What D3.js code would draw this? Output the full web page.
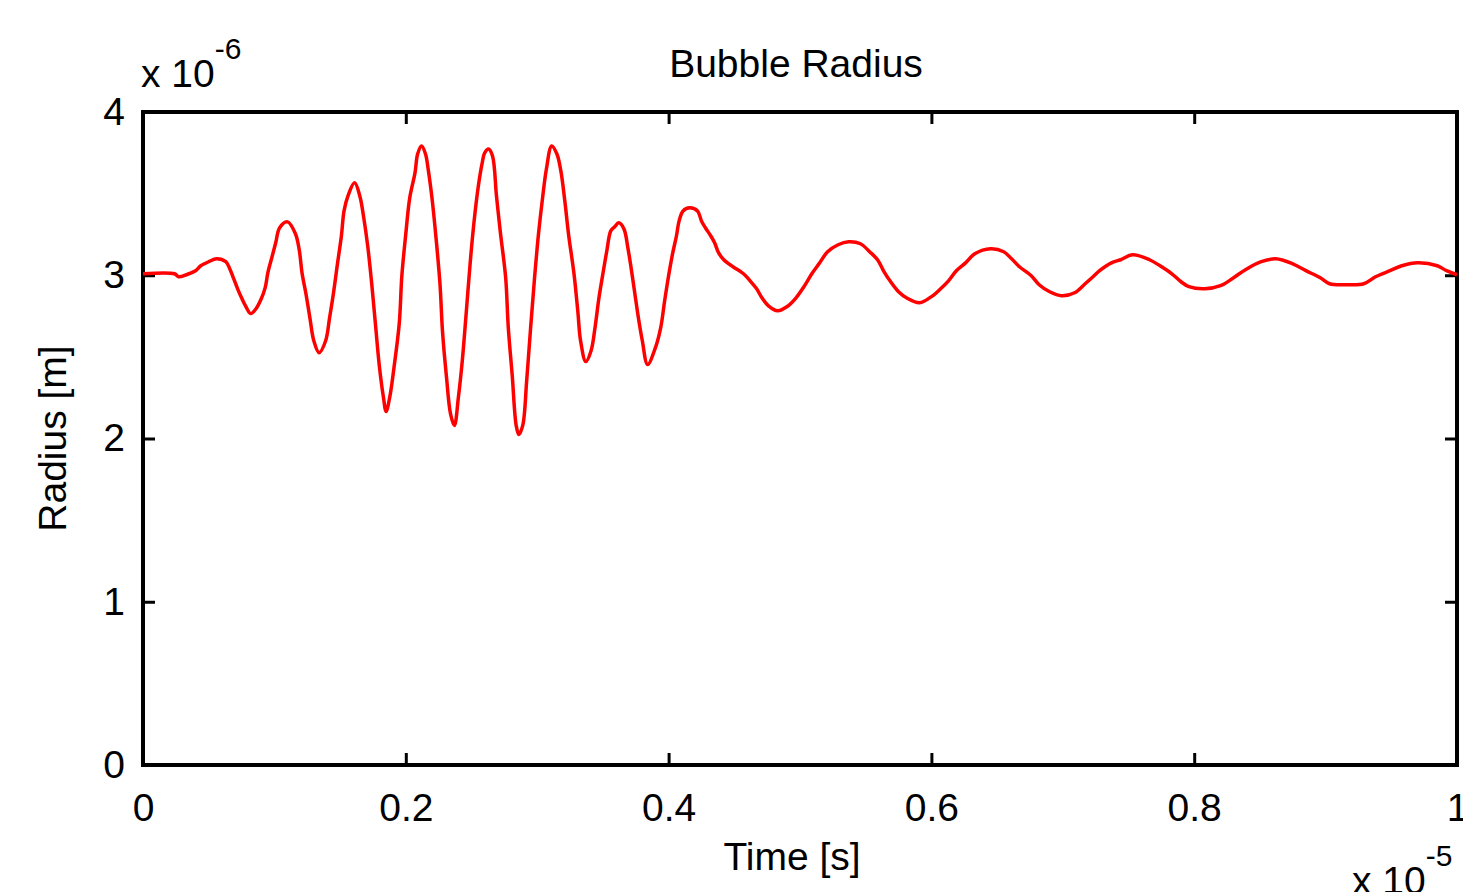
<!DOCTYPE html>
<html lang="en">
<head>
<meta charset="utf-8">
<style>
    body { margin: 0; background: #fff; }
    svg { display: block; font-family: "Liberation Sans", Arial, sans-serif; }
    .axis path { display: none; }
    .axis line { stroke: #000; stroke-width: 3; }
    .axis text { font-size: 39px; fill: #000; }
</style>
</head>
<body>
<svg></svg>
<script src="https://d3js.org/d3.v7.min.js"></script>
<script>
    // time in units of 1e-5 s, radius in units of 1e-6 m
    var time = [0, 0.024, 0.027, 0.033, 0.040, 0.044, 0.050, 0.056, 0.063, 0.066, 0.069, 0.072, 0.075, 0.078, 0.082,
        0.086, 0.090, 0.093, 0.095, 0.098, 0.101, 0.104, 0.110, 0.116, 0.119, 0.121, 0.124, 0.127, 0.130, 0.134,
        0.139, 0.142, 0.145, 0.148, 0.151, 0.153, 0.156, 0.161, 0.165, 0.168, 0.171, 0.174, 0.177, 0.180, 0.183, 0.185,
        0.188, 0.191, 0.195, 0.197, 0.200, 0.203, 0.207, 0.209, 0.212, 0.215, 0.217, 0.220, 0.223, 0.226, 0.228,
        0.231, 0.234, 0.237, 0.240, 0.243, 0.246, 0.249, 0.252, 0.255, 0.258, 0.260, 0.263, 0.266, 0.269, 0.272,
        0.276, 0.278, 0.281, 0.284, 0.286, 0.289, 0.292, 0.295, 0.298, 0.301, 0.304, 0.307, 0.311, 0.315, 0.318,
        0.321, 0.324, 0.328, 0.331, 0.333, 0.337, 0.341, 0.344, 0.347, 0.350, 0.353, 0.356, 0.359, 0.362, 0.366,
        0.369, 0.371, 0.374, 0.377, 0.380, 0.384, 0.390, 0.394, 0.397, 0.400, 0.403, 0.406, 0.408, 0.411, 0.416,
        0.422, 0.425, 0.428, 0.432, 0.435, 0.438, 0.442, 0.449, 0.457, 0.462, 0.467, 0.471, 0.476, 0.483, 0.490,
        0.497, 0.503, 0.509, 0.515, 0.521, 0.529, 0.537, 0.546, 0.553, 0.559, 0.564, 0.569, 0.575, 0.581, 0.591,
        0.600, 0.607, 0.613, 0.619, 0.626, 0.633, 0.645, 0.655, 0.661, 0.667, 0.676, 0.682, 0.690, 0.699, 0.709,
        0.717, 0.723, 0.728, 0.737, 0.744, 0.753, 0.766, 0.774, 0.783, 0.790, 0.796, 0.808, 0.820, 0.830, 0.839,
        0.851, 0.862, 0.875, 0.885, 0.896, 0.903, 0.916, 0.929, 0.938, 0.949, 0.958, 0.970, 0.985, 0.992, 1.0];
    var radius = [3.009, 3.009, 2.991, 3.003, 3.028, 3.058, 3.083, 3.101, 3.083, 3.040, 2.979, 2.917, 2.862, 2.813, 2.765,
        2.795, 2.856, 2.924, 3.015, 3.107, 3.199, 3.291, 3.327, 3.254, 3.150, 3.015, 2.887, 2.740, 2.599, 2.526,
        2.599, 2.740, 2.893, 3.070, 3.242, 3.394, 3.486, 3.566, 3.486, 3.352, 3.180, 2.954, 2.691, 2.434, 2.251, 2.165,
        2.263, 2.434, 2.703, 2.997, 3.254, 3.474, 3.627, 3.743, 3.792, 3.743, 3.651, 3.468, 3.229, 2.948, 2.648,
        2.373, 2.153, 2.080, 2.251, 2.477, 2.771, 3.076, 3.333, 3.535, 3.682, 3.749, 3.774, 3.731, 3.486, 3.260,
        2.985, 2.679, 2.385, 2.080, 2.024, 2.080, 2.355, 2.679, 2.985, 3.254, 3.468, 3.651, 3.792, 3.743, 3.639,
        3.456, 3.242, 3.009, 2.771, 2.599, 2.471, 2.538, 2.679, 2.862, 3.009, 3.150, 3.272, 3.297, 3.321, 3.284,
        3.168, 3.070, 2.905, 2.740, 2.599, 2.453, 2.557, 2.679, 2.844, 2.997, 3.131, 3.242, 3.333, 3.394, 3.413,
        3.394, 3.333, 3.291, 3.242, 3.199, 3.138, 3.095, 3.052, 3.009, 2.966, 2.917, 2.862, 2.813, 2.783, 2.807,
        2.862, 2.930, 3.009, 3.076, 3.144, 3.187, 3.205, 3.193, 3.144, 3.095, 3.021, 2.960, 2.899, 2.862, 2.832,
        2.869, 2.917, 2.966, 3.028, 3.076, 3.131, 3.162, 3.144, 3.101, 3.052, 2.997, 2.942, 2.899, 2.875, 2.893,
        2.948, 2.991, 3.028, 3.076, 3.095, 3.125, 3.095, 3.058, 3.009, 2.960, 2.930, 2.917, 2.936, 2.985, 3.034,
        3.083, 3.101, 3.070, 3.028, 2.985, 2.948, 2.942, 2.948, 2.991, 3.028, 3.058, 3.076, 3.058, 3.028, 3.003];

    var xTicks = [0, 0.2, 0.4, 0.6, 0.8, 1];
    var yTicks = [0, 1, 2, 3, 4];
    var title = "Bubble Radius";
    var xLabel = "Time [s]";
    var yLabel = "Radius [m]";

    var width = 1463;
    var height = 892;
    // plot box edges ("top" is taken by window.top, so use other names)
    var boxL = 143, boxR = 1457, boxT = 112, boxB = 765;

    var x = d3.scaleLinear().domain([0, 1]).range([boxL, boxR]);
    var y = d3.scaleLinear().domain([0, 4]).range([boxB, boxT]);

    var svg = d3.select('svg')
        .attr("width", width)
        .attr("height", height);

    // ticks on all four sides, pointing inward
    svg.append("g").attr("class", "axis")
        .attr("transform", "translate(0," + boxB + ")")
        .call(d3.axisBottom(x).tickValues(xTicks).tickSizeInner(-12).tickSizeOuter(0).tickPadding(28).tickFormat(d3.format("~g")))
        .selectAll("text").attr("dy", "0.71em");
    svg.append("g").attr("class", "axis")
        .attr("transform", "translate(0," + boxT + ")")
        .call(d3.axisTop(x).tickValues(xTicks).tickSizeInner(-12).tickSizeOuter(0).tickFormat(""));
    svg.append("g").attr("class", "axis")
        .attr("transform", "translate(" + boxL + ",0)")
        .call(d3.axisLeft(y).tickValues(yTicks).tickSizeInner(-12).tickSizeOuter(0).tickPadding(18).tickFormat(d3.format("d")));
    svg.append("g").attr("class", "axis")
        .attr("transform", "translate(" + boxR + ",0)")
        .call(d3.axisRight(y).tickValues(yTicks).tickSizeInner(-12).tickSizeOuter(0).tickFormat(""));

    // frame
    svg.append("rect")
        .attr("x", boxL).attr("y", boxT)
        .attr("width", boxR - boxL).attr("height", boxB - boxT)
        .attr("fill", "none").attr("stroke", "#000").attr("stroke-width", 4);

    var line = d3.line()
        .x(function (d, i) { return x(time[i]); })
        .y(function (d) { return y(d); })
        .curve(d3.curveCatmullRom.alpha(0.5));

    svg.append("path")
        .datum(radius)
        .attr("d", line)
        .attr("fill", "none")
        .attr("stroke", "#ff0000")
        .attr("stroke-width", 3.5)
        .attr("stroke-linejoin", "round");

    svg.append("text")
        .attr("x", 796).attr("y", 77)
        .attr("text-anchor", "middle")
        .style("font-size", "39px")
        .text(title);

    svg.append("text")
        .attr("x", 792).attr("y", 870)
        .attr("text-anchor", "middle")
        .style("font-size", "39px")
        .text(xLabel);

    svg.append("text")
        .attr("transform", "translate(66," + ((boxT + boxB) / 2) + ") rotate(-90)")
        .attr("text-anchor", "middle")
        .style("font-size", "39px")
        .text(yLabel);

    // exponent labels
    var ex1 = svg.append("text").attr("x", 141).attr("y", 87).style("font-size", "39px");
    ex1.append("tspan").text("x 10");
    ex1.append("tspan").attr("y", 59).style("font-size", "30px").text("-6");

    var ex2 = svg.append("text").attr("x", 1352).attr("y", 894).style("font-size", "39px");
    ex2.append("tspan").text("x 10");
    ex2.append("tspan").attr("y", 866).style("font-size", "30px").text("-5");
</script>
</body>
</html>
